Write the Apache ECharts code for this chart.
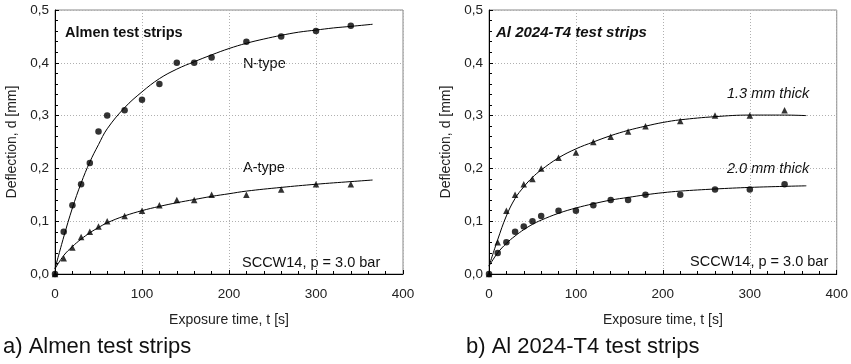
<!DOCTYPE html>
<html><head><meta charset="utf-8">
<script src="https://cdn.jsdelivr.net/npm/echarts@6/dist/echarts.min.js"></script>
<style>html,body{margin:0;padding:0;background:#fff}#c{width:851px;height:364px}</style>
</head><body><div id="c"></div>
<script>
const xTicks = [0, 100, 200, 300, 400];
const yTicks = ['0,0', '0,1', '0,2', '0,3', '0,4', '0,5'];

const nTypeT = [0, 10, 20, 30, 40, 50, 60, 80, 100, 120, 140, 160, 180, 220, 260, 300, 340];
const nTypeD = [0, 0.08, 0.13, 0.17, 0.21, 0.27, 0.30, 0.31, 0.33, 0.36, 0.40, 0.40, 0.41, 0.44, 0.45, 0.46, 0.47];
const aTypeT = [0, 10, 20, 30, 40, 50, 60, 80, 100, 120, 140, 160, 180, 220, 260, 300, 340];
const aTypeD = [0, 0.03, 0.05, 0.07, 0.08, 0.09, 0.10, 0.11, 0.12, 0.13, 0.14, 0.14, 0.15, 0.15, 0.16, 0.17, 0.17];

const nFitT = [0, 10, 20, 30, 40, 50, 60, 80, 100, 120, 140, 160, 180, 200, 220, 240, 260, 280, 300, 320, 340, 365];
const nFitD = [0.01, 0.07, 0.125, 0.172, 0.212, 0.245, 0.275, 0.315, 0.345, 0.37, 0.388, 0.402, 0.415, 0.427, 0.437, 0.445, 0.452, 0.458, 0.462, 0.466, 0.469, 0.473];
const aFitT = [0, 10, 20, 30, 40, 50, 60, 80, 100, 120, 140, 160, 180, 200, 220, 260, 300, 340, 365];
const aFitD = [0.01, 0.035, 0.052, 0.066, 0.078, 0.088, 0.097, 0.11, 0.12, 0.128, 0.135, 0.141, 0.147, 0.152, 0.157, 0.164, 0.17, 0.175, 0.178];

const t13T = [0, 10, 20, 30, 40, 50, 60, 80, 100, 120, 140, 160, 180, 220, 260, 300, 340];
const t13D = [0, 0.06, 0.12, 0.15, 0.17, 0.18, 0.20, 0.22, 0.23, 0.25, 0.26, 0.27, 0.28, 0.29, 0.30, 0.30, 0.31];
const t20T = [0, 10, 20, 30, 40, 50, 60, 80, 100, 120, 140, 160, 180, 220, 260, 300, 340];
const t20D = [0, 0.04, 0.06, 0.08, 0.09, 0.10, 0.11, 0.12, 0.12, 0.13, 0.14, 0.14, 0.15, 0.15, 0.16, 0.16, 0.17];

const f13T = [0, 10, 20, 30, 40, 50, 60, 80, 100, 120, 140, 160, 180, 200, 220, 260, 300, 340, 365];
const f13D = [0.015, 0.065, 0.11, 0.143, 0.165, 0.183, 0.197, 0.22, 0.237, 0.25, 0.262, 0.272, 0.28, 0.287, 0.292, 0.298, 0.301, 0.301, 0.30];
const f20T = [0, 10, 20, 30, 40, 50, 60, 80, 100, 120, 140, 160, 180, 200, 220, 260, 300, 340, 365];
const f20D = [0.015, 0.04, 0.058, 0.072, 0.084, 0.094, 0.102, 0.115, 0.125, 0.133, 0.14, 0.145, 0.15, 0.154, 0.157, 0.161, 0.164, 0.166, 0.167];

const zip = (a, b) => a.map((v, i) => [v, b[i]]);
const FONT = '"Liberation Sans", Arial, sans-serif';

function xAxis(idx) {
  return {
    gridIndex: idx, type: 'value', min: 0, max: 400, interval: 100,
    name: 'Exposure time, t [s]', nameLocation: 'middle', nameGap: 39,
    nameTextStyle: { fontFamily: FONT, fontSize: 14, color: '#222' },
    axisLine: { lineStyle: { color: '#000', width: 1 } },
    axisTick: { inside: true, length: 4, lineStyle: { color: '#000' } },
    minorTick: { show: true, splitNumber: 5, length: 3, lineStyle: { color: '#000' } },
    axisLabel: { fontFamily: FONT, fontSize: 13.5, color: '#222', margin: 13,
      formatter: v => String(xTicks[Math.round(v / 100)]) },
    splitLine: { show: true, lineStyle: { color: '#b0b0b0', type: [1, 2], width: 1 } }
  };
}
function yAxis(idx) {
  return {
    gridIndex: idx, type: 'value', min: 0, max: 0.5, interval: 0.1,
    name: 'Deflection, d [mm]', nameLocation: 'middle', nameGap: 36,
    nameTextStyle: { fontFamily: FONT, fontSize: 14, color: '#222' },
    axisLine: { show: true, lineStyle: { color: '#000', width: 1 } },
    axisTick: { show: true, inside: true, length: 4, lineStyle: { color: '#000' } },
    minorTick: { show: true, splitNumber: 5, length: 3, lineStyle: { color: '#000' } },
    axisLabel: { fontFamily: FONT, fontSize: 13.5, color: '#222', margin: 6,
      formatter: v => yTicks[Math.round(v * 10)] },
    splitLine: { show: true, lineStyle: { color: '#b0b0b0', type: [1, 2], width: 1 } }
  };
}
function fit(xi, data) {
  return { type: 'line', xAxisIndex: xi, yAxisIndex: xi, data, smooth: 0.4, showSymbol: false,
    lineStyle: { color: '#000', width: 1 }, z: 2, silent: true };
}
function pts(xi, data, sym, size) {
  return { type: 'scatter', xAxisIndex: xi, yAxisIndex: xi, data, symbol: sym, symbolSize: size,
    itemStyle: { color: '#000' }, z: 3 };
}
function txt(x, y, s, opts) {
  return Object.assign({ type: 'text', left: x, top: y,
    style: Object.assign({ text: s, fontFamily: FONT, fontSize: 14.5, fill: '#111' }, opts || {}) });
}

const chart = echarts.init(document.getElementById('c'), null, { renderer: 'canvas' });
chart.setOption({
  animation: false,
  grid: [
    { left: 55, right: 448, top: 10, bottom: 90, show: true, borderColor: '#888', borderWidth: 1 },
    { left: 489, right: 14, top: 10, bottom: 90, show: true, borderColor: '#888', borderWidth: 1 }
  ],
  xAxis: [xAxis(0), xAxis(1)],
  yAxis: [yAxis(0), yAxis(1)],
  series: [
    fit(0, zip(nFitT, nFitD)), fit(0, zip(aFitT, aFitD)),
    pts(0, zip(nTypeT, nTypeD), 'circle', 6.5), pts(0, zip(aTypeT, aTypeD), 'triangle', 6.5),
    fit(1, zip(f13T, f13D)), fit(1, zip(f20T, f20D)),
    pts(1, zip(t13T, t13D), 'triangle', 6.5), pts(1, zip(t20T, t20D), 'circle', 6.5)
  ],
  graphic: [
    txt(65, 25, 'Almen test strips', { fontWeight: 'bold' }),
    txt(243, 56, 'N-type'),
    txt(243, 160, 'A-type'),
    txt(242, 255, 'SCCW14, p = 3.0 bar'),
    txt(496, 25, 'Al 2024-T4 test strips', { fontWeight: 'bold', fontStyle: 'italic', fontSize: 15 }),
    txt(727, 86, '1.3 mm thick', { fontStyle: 'italic' }),
    txt(727, 161, '2.0 mm thick', { fontStyle: 'italic' }),
    txt(690, 254, 'SCCW14, p = 3.0 bar'),
    txt(3, 336, 'a) Almen test strips', { fontSize: 22 }),
    txt(466, 336, 'b) Al 2024-T4 test strips', { fontSize: 22 })
  ]
});
</script></body></html>
